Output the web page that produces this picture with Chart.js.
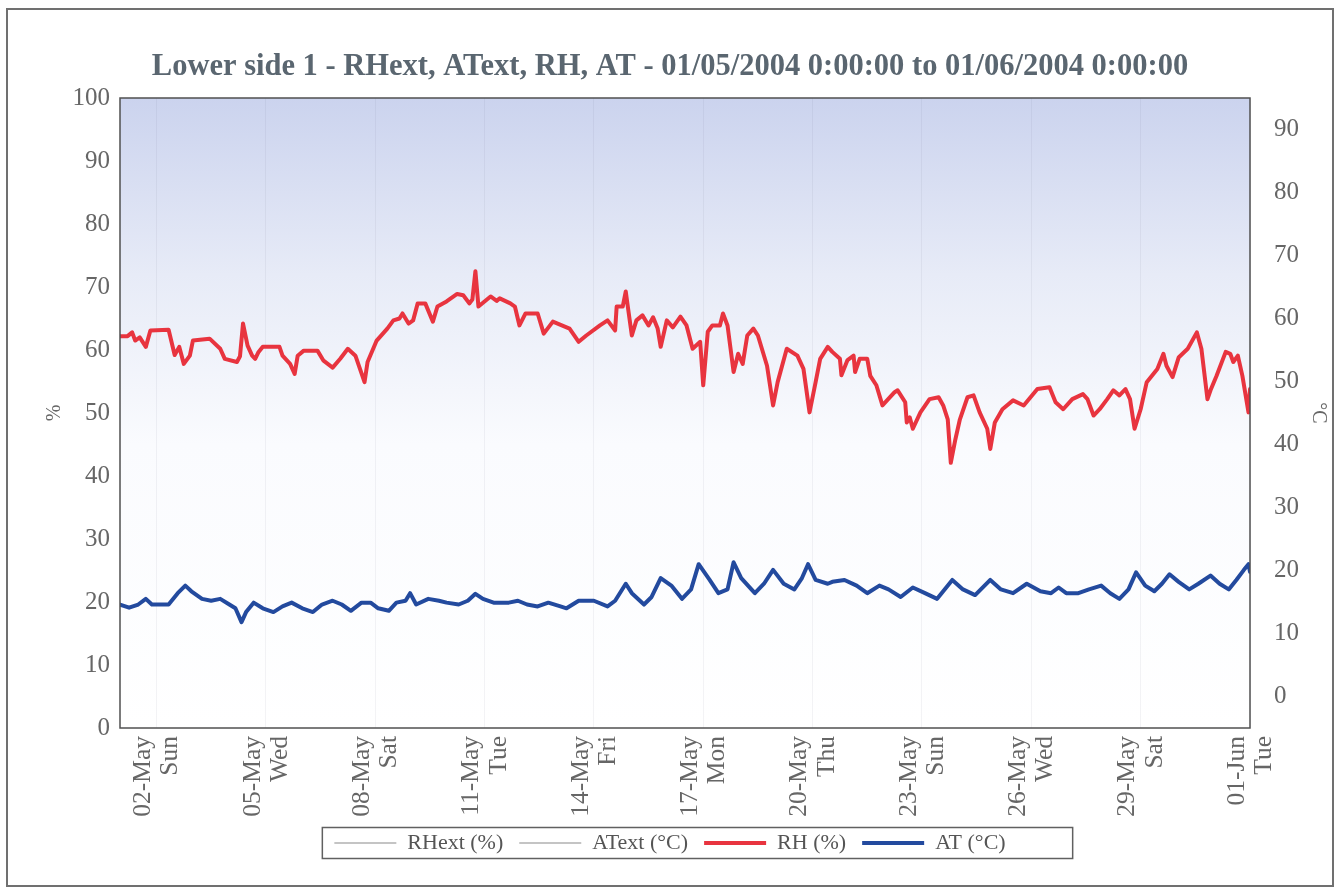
<!DOCTYPE html>
<html>
<head>
<meta charset="utf-8">
<title>Lower side 1 - RHext, AText, RH, AT</title>
<script src="https://cdn.jsdelivr.net/npm/chart.js@4.4.1/dist/chart.umd.min.js"></script>
<style>
  html, body { margin: 0; padding: 0; background: #ffffff; }
  canvas { display: block; }
</style>
</head>
<body>
<canvas id="chart" width="1340" height="893"></canvas>
<script>
// Logger readings, hours counted from 01/05/2004 0:00:00
const rhHours = [
  0, 5, 8, 10, 13, 17, 20, 32, 36, 39,
  42, 46, 48, 59, 66, 69, 77, 79, 81, 84,
  87, 89, 91, 94, 105, 107, 112, 115, 117, 121,
  130, 134, 140, 145, 150, 155, 158, 161, 163, 169,
  176, 180, 184, 186, 190, 193, 196, 201, 206, 209,
  215, 222, 226, 230, 232, 234, 236, 244, 248, 250,
  257, 260, 263, 267, 275, 279, 285, 296, 302, 307,
  316, 321, 326, 327, 331, 333, 334, 337, 340, 344,
  348, 351, 354, 356, 360, 364, 369, 373, 377, 382,
  384, 387, 390, 395, 397, 400, 402, 404, 407, 410,
  413, 417, 420, 426, 430, 433, 439, 446, 450, 454,
  458, 461, 466, 469, 474, 475, 479, 483, 484, 487,
  492, 494, 498, 502, 510, 512, 517, 518, 520, 522,
  527, 533, 539, 542, 545, 547, 550, 553, 558, 562,
  566, 571, 573, 576, 581, 588, 595, 604, 612, 616,
  621, 627, 634, 637, 641, 645, 650, 654, 658, 662,
  665, 668, 672, 676, 683, 687, 689, 693, 697, 703,
  709, 712, 716, 718, 722, 728, 731, 733, 736, 739,
  743, 744
];
const rhValues = [
  62.2, 62.2, 62.8, 61.5, 62.0, 60.5, 63.1, 63.2, 59.2, 60.5,
  57.8, 59.1, 61.5, 61.8, 60.2, 58.6, 58.1, 59.0, 64.2, 60.7,
  59.1, 58.6, 59.6, 60.5, 60.5, 59.1, 57.8, 56.2, 59.1, 59.9,
  59.9, 58.3, 57.2, 58.6, 60.2, 59.1, 57.0, 54.9, 58.1, 61.5,
  63.4, 64.7, 65.0, 65.8, 64.2, 64.7, 67.4, 67.4, 64.5, 66.9,
  67.7, 68.9, 68.7, 67.4, 68.0, 72.5, 66.9, 68.5, 67.8, 68.2,
  67.4, 66.9, 63.9, 65.8, 65.8, 62.6, 64.5, 63.4, 61.3, 62.3,
  63.9, 64.7, 63.1, 66.9, 66.9, 69.3, 67.5, 62.3, 64.7, 65.5,
  63.9, 65.2, 63.4, 60.5, 64.7, 63.6, 65.3, 63.9, 60.2, 61.3,
  54.4, 62.9, 63.9, 63.9, 65.8, 63.9, 60.2, 56.5, 59.4, 57.8,
  62.3, 63.4, 62.3, 57.5, 51.2, 54.9, 60.2, 59.1, 57.0, 50.1,
  54.9, 58.6, 60.5, 59.7, 58.6, 56.0, 58.4, 59.1, 56.5, 58.6,
  58.6, 55.9, 54.4, 51.2, 53.3, 53.6, 51.7, 48.5, 49.3, 47.5,
  50.1, 52.2, 52.5, 51.2, 49.0, 42.1, 45.8, 49.0, 52.5, 52.8,
  50.1, 47.5, 44.3, 48.5, 50.6, 52.0, 51.2, 53.8, 54.1, 51.7,
  50.6, 52.2, 53.0, 52.2, 49.6, 50.6, 52.2, 53.6, 52.8, 53.8,
  52.2, 47.5, 50.6, 54.9, 57.0, 59.4, 57.5, 55.7, 58.8, 60.2,
  62.8, 60.2, 52.2, 53.6, 55.9, 59.7, 59.4, 58.1, 59.1, 55.9,
  50.1, 53.8
];
const atHours = [
  0, 6, 12, 17, 21, 32, 38, 43, 47, 54,
  60, 66, 72, 76, 80, 83, 88, 94, 101, 107,
  113, 120, 127, 133, 140, 146, 152, 159, 165, 170,
  177, 182, 188, 191, 195, 203, 210, 215, 223, 229,
  234, 239, 246, 256, 262, 268, 275, 282, 290, 294,
  302, 312, 321, 326, 333, 337, 345, 350, 356, 363,
  370, 376, 381, 388, 394, 400, 404, 409, 418, 424,
  430, 437, 444, 449, 453, 458, 466, 469, 477, 485,
  492, 500, 506, 514, 522, 530, 538, 548, 555, 563,
  573, 580, 588, 597, 606, 613, 618, 623, 631, 638,
  646, 652, 658, 664, 669, 675, 681, 686, 691, 697,
  704, 710, 718, 724, 730, 735, 740, 743, 744
];
const atValues = [
  14.6, 14.1, 14.6, 15.5, 14.6, 14.6, 16.4, 17.6, 16.7, 15.5,
  15.2, 15.5, 14.6, 14.0, 11.8, 13.4, 14.9, 14.0, 13.4, 14.3,
  14.9, 14.0, 13.4, 14.6, 15.2, 14.6, 13.6, 14.9, 14.9, 14.0,
  13.6, 14.9, 15.2, 16.4, 14.6, 15.5, 15.2, 14.9, 14.6, 15.2,
  16.3, 15.5, 14.9, 14.9, 15.2, 14.6, 14.3, 14.9, 14.3, 14.0,
  15.2, 15.2, 14.3, 15.2, 17.9, 16.4, 14.6, 15.8, 18.8, 17.6,
  15.5, 17.0, 21.0, 18.6, 16.4, 17.0, 21.3, 18.8, 16.4, 17.9,
  20.1, 17.9, 17.0, 18.8, 21.0, 18.5, 17.9, 18.2, 18.5, 17.6,
  16.4, 17.6, 17.0, 15.8, 17.3, 16.4, 15.5, 18.5, 17.0, 16.1,
  18.5, 17.0, 16.4, 17.9, 16.7, 16.4, 17.3, 16.4, 16.4, 17.0,
  17.6, 16.4, 15.5, 17.0, 19.7, 17.6, 16.7, 17.9, 19.4, 18.2,
  17.0, 17.9, 19.2, 17.9, 17.0, 18.5, 20.1, 21.0, 19.8
];
// External sensors: no readings stored for this period
const rhExtHours = [];
const rhExtValues = [];
const atExtHours = [];
const atExtValues = [];

// Axis ticks
const tickHours = [24, 96, 168, 240, 312, 384, 456, 528, 600, 672, 744];
const tickDates = ['02-May', '05-May', '08-May', '11-May', '14-May', '17-May',
                   '20-May', '23-May', '26-May', '29-May', '01-Jun'];
const tickWeekdays = ['Sun', 'Wed', 'Sat', 'Tue', 'Fri', 'Mon',
                      'Thu', 'Sun', 'Wed', 'Sat', 'Tue'];
const rhTicks = [0, 10, 20, 30, 40, 50, 60, 70, 80, 90, 100];
const atTicks = [0, 10, 20, 30, 40, 50, 60, 70, 80, 90];

const toPoints = (xs, ys) => xs.map((x, i) => ({ x: x, y: ys[i] }));

const SERIF = "'Liberation Serif', 'Times New Roman', serif";
const TEXT_GREY = '#666666';

// Page frame, plot background, plot border and legend frame
const framePlugin = {
  id: 'frame',
  beforeDraw(chart) {
    const { ctx, chartArea: a } = chart;
    ctx.save();
    ctx.fillStyle = '#ffffff';
    ctx.fillRect(0, 0, chart.width, chart.height);
    const g = ctx.createLinearGradient(0, a.top, 0, a.bottom);
    g.addColorStop(0, '#cbd3ee');
    g.addColorStop(0.28, '#e7ebf7');
    g.addColorStop(0.55, '#fafbfe');
    g.addColorStop(1, '#ffffff');
    ctx.fillStyle = g;
    ctx.fillRect(a.left, a.top, a.right - a.left, a.bottom - a.top);
    ctx.strokeStyle = '#707070';
    ctx.lineWidth = 2;
    ctx.strokeRect(7, 9, chart.width - 14, chart.height - 16);
    ctx.restore();
  },
  afterDraw(chart) {
    const { ctx, chartArea: a } = chart;
    ctx.save();
    ctx.strokeStyle = '#505050';
    ctx.lineWidth = 1.5;
    ctx.strokeRect(a.left, a.top, a.right - a.left, a.bottom - a.top);
    const boxes = chart.legend && chart.legend.legendHitBoxes;
    if (boxes && boxes.length) {
      const left = Math.min(...boxes.map(b => b.left));
      const right = Math.max(...boxes.map(b => b.left + b.width));
      const cy = boxes[0].top + boxes[0].height / 2;
      ctx.strokeStyle = '#606060';
      ctx.lineWidth = 1.5;
      ctx.strokeRect(left - 12, cy - 15.5, right - left + 79, 31);
    }
    ctx.restore();
  }
};

new Chart(document.getElementById('chart'), {
  type: 'line',
  data: {
    datasets: [
      { label: 'RHext (%)', data: toPoints(rhExtHours, rhExtValues), yAxisID: 'y',
        borderColor: '#c4c4c4', backgroundColor: '#c4c4c4', borderWidth: 2, borderDash: [2, 2] },
      { label: 'AText (°C)', data: toPoints(atExtHours, atExtValues), yAxisID: 'y1',
        borderColor: '#c4c4c4', backgroundColor: '#c4c4c4', borderWidth: 2, borderDash: [2, 2] },
      { label: 'RH (%)', data: toPoints(rhHours, rhValues), yAxisID: 'y',
        borderColor: '#e8343f', backgroundColor: '#e8343f', borderWidth: 4 },
      { label: 'AT (°C)', data: toPoints(atHours, atValues), yAxisID: 'y1',
        borderColor: '#234a9e', backgroundColor: '#234a9e', borderWidth: 4 }
    ]
  },
  options: {
    responsive: false,
    animation: false,
    devicePixelRatio: 1,
    elements: {
      point: { radius: 0, hoverRadius: 0 },
      line: { tension: 0, borderJoinStyle: 'round', borderCapStyle: 'round' }
    },
    layout: { padding: { left: 10, right: 10, top: 0, bottom: 29 } },
    plugins: {
      title: {
        display: true,
        text: 'Lower side 1 - RHext, AText, RH, AT - 01/05/2004 0:00:00 to 01/06/2004 0:00:00',
        color: '#5a6670',
        font: { family: SERIF, size: 30.5, weight: 'bold', lineHeight: 1.2 },
        padding: { top: 49, bottom: 12.4 }
      },
      legend: {
        position: 'bottom',
        labels: {
          usePointStyle: true,
          pointStyle: 'line',
          pointStyleWidth: 62,
          color: '#555555',
          font: { family: SERIF, size: 22 },
          padding: 16
        }
      },
      tooltip: { enabled: false }
    },
    scales: {
      x: {
        type: 'linear',
        min: 0,
        max: 744,
        afterBuildTicks: axis => { axis.ticks = tickHours.map(v => ({ value: v })); },
        afterFit: axis => { axis.height = 88; },
        ticks: {
          autoSkip: false,
          minRotation: 90,
          maxRotation: 90,
          padding: 8,
          labelOffset: -13,
          color: TEXT_GREY,
          font: { family: SERIF, size: 25.5, lineHeight: 1.07 },
          callback: (value, index) => [tickDates[index], tickWeekdays[index]]
        },
        grid: { color: 'rgba(90, 90, 120, 0.07)', drawTicks: false },
        border: { display: false }
      },
      y: {
        position: 'left',
        min: 0,
        max: 100,
        afterBuildTicks: axis => { axis.ticks = rhTicks.map(v => ({ value: v })); },
        afterFit: axis => { axis.width = 110; },
        ticks: { padding: 10, color: TEXT_GREY, font: { family: SERIF, size: 25 } },
        grid: { display: false, drawTicks: false },
        border: { display: false },
        title: { display: true, text: '%', color: TEXT_GREY,
                 font: { family: SERIF, size: 20 }, padding: { top: 33, bottom: 0 } }
      },
      y1: {
        position: 'right',
        min: -5,
        max: 95,
        afterBuildTicks: axis => { axis.ticks = atTicks.map(v => ({ value: v })); },
        afterFit: axis => { axis.width = 80; },
        ticks: { padding: 24, color: TEXT_GREY, font: { family: SERIF, size: 25 } },
        grid: { display: false, drawTicks: false },
        border: { display: false },
        title: { display: true, text: '°C', color: TEXT_GREY,
                 font: { family: SERIF, size: 20 }, padding: { top: 0, bottom: 0 } }
      }
    }
  },
  plugins: [framePlugin]
});
</script>
</body>
</html>
